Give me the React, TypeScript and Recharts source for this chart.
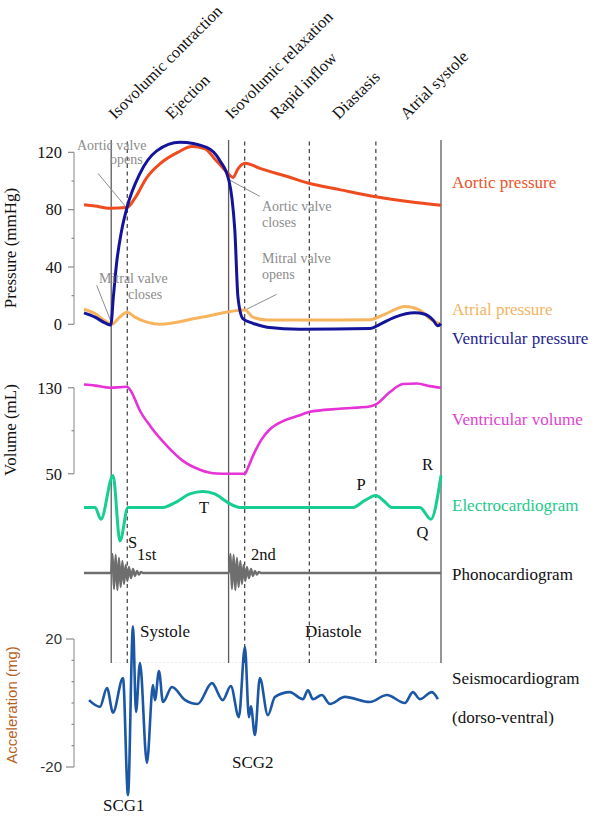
import React from 'react';
import { LineChart, Line, XAxis, YAxis, ReferenceLine } from 'recharts';

// ---------- time axis (ms in one cardiac cycle) ----------
const X_DOMAIN: [number, number] = [-22.4, 800];
const AXIS_X = 74;
const SERIF = '"Liberation Serif", "Times New Roman", serif';
const SANS = '"Liberation Sans", Arial, sans-serif';

// ---------- phases ----------
const phaseNames = ['Isovolumic contraction', 'Ejection', 'Isovolumic relaxation', 'Rapid inflow', 'Diastasis', 'Atrial systole'];
const phaseLabelTimes = [70, 197, 331, 432, 571, 723];
const solidBoundaries = [61, 324, 800];
const dashedBoundaries = [97, 360, 505, 654];

// ---------- pressure (mmHg) ----------
const pressureTicks = [0, 20, 40, 60, 80, 100, 120];
const pressureTickLabels = [0, 40, 80, 120];
const aorticTime = [0, 24.6, 58.2, 96.3, 114, 141, 170, 210, 242, 271, 294, 309, 325, 334, 345, 361, 394, 461, 504, 573, 654, 730, 800];
const aorticPressure = [83.5, 82.5, 81, 81.5, 88, 102.6, 112, 120, 124, 122.5, 115, 110, 104.5, 102.5, 108.5, 112.4, 108.8, 102.6, 98.4, 94, 89, 85.5, 83];
const ventricularTime = [0, 24.6, 47, 60, 66, 73, 84, 96.3, 125, 163, 215, 275, 304, 325, 331.5, 338, 345, 356, 378.6, 410, 484, 641, 663, 697, 741, 764, 782, 793, 800];
const ventricularPressure = [8, 5, 1, -0.5, 20, 42.6, 65, 81.5, 105, 121, 127, 123.5, 114.5, 100, 88, 65.6, 19, 4, 0.7, -2, -3.5, -3, 0, 5, 8, 7, 3, -1, 0.5];
const atrialTime = [0, 24.6, 47, 62, 80, 96.3, 114, 141, 170, 260, 361, 378, 410, 641, 674, 719, 752, 779, 800];
const atrialPressure = [10.5, 7.5, 2.5, 0, 5, 8.5, 5, 1.5, 0, 4.7, 10, 5, 3, 3.2, 7, 12.5, 10, 3, 0];

// ---------- volume (mL) ----------
const volumeTicks = [50, 90, 130];
const volumeTickLabels = [50, 130];
const volumeTime = [0, 24.6, 58.2, 80, 96.3, 105, 125.4, 147.8, 185.9, 221.8, 259.8, 297, 325, 360.6, 367.4, 378.6, 398, 416.6, 445.8, 483.8, 504, 573, 640, 654, 685.4, 714.6, 746, 775, 800];
const volumeValue = [133, 132, 130, 130.5, 131, 127, 108.6, 94.7, 76, 62, 53.8, 50.2, 50, 50, 55.6, 66.6, 82, 91.4, 99, 104.4, 107.5, 110.5, 112.5, 114.5, 126, 133.5, 134, 131.5, 130];

// ---------- ECG (mV) ----------
const ecgTime = [0, 24.6, 38, 65, 80.6, 98.6, 177, 204, 237, 266.6, 293, 322.6, 349.4, 602.6, 629.4, 654, 672, 690, 752.6, 777.3, 800];
const ecgValue = [0, 0, -0.37, 1.0, -1.05, 0, 0, 0.15, 0.42, 0.5, 0.42, 0.15, 0, 0, 0.22, 0.37, 0.2, 0, 0, -0.37, 1.0];

// ---------- phonocardiogram (a.u.) ----------
const phonoTime = [0, 60.5, 63.8, 67.2, 71, 74.8, 78.4, 82.2, 86, 89.6, 93.4, 97.2, 100.8, 105.3, 109.8, 114.2, 118.7, 123.2, 127.7, 132.2,
  324.8, 328.2, 331.5, 335.3, 339.1, 342.7, 346.5, 350.3, 353.9, 357.7, 361.5, 365.1, 369.6, 374.1, 378.6, 383, 387.5, 392, 396.5, 800];
const phonoValue = [0, 0, 19, -16, 18, -17, 15, -14, 12, -11, 8, -8, 6, -5, 4, -3, 2, -1.5, 1, 0,
  0, 19, -16, 18, -17, 15, -14, 12, -11, 8, -8, 6, -5, 4, -3, 2, -1.5, 1, 0, 0];

// ---------- seismocardiogram (mg) ----------
const scgTicks = [-20, -13.33, -6.67, 0, 6.67, 13.33, 20];
const scgTickLabels = [-20, 20];
const scgTime = [11.2, 35.8, 51.5, 65, 87.4, 98.6, 109.8, 116.5, 125.4, 141, 154.6, 159, 168, 177, 197, 226, 255, 286.7, 311, 329, 347, 360.6, 369.6, 374, 383, 394, 412, 428, 461, 490.6, 501.8, 513, 533, 551, 584.6, 640.6, 678.7, 719, 737, 752.6, 779.5, 793];
const scgValue = [0.9, -1.2, 4.7, -3, 7.8, -28.8, 24, -2.8, 12.5, -18.7, 5.6, 0.9, 10, 0.3, 5, 1, -0.3, 6.2, 0.9, 5.3, -4.4, 17.5, -4.4, -1, -10, 7.8, -3.8, 1.9, 3.4, 1.2, 4, 1.2, 2.5, -0.3, 1.9, 0.3, 2.5, 0, 3.4, 1.2, 3.4, 1.2];

// frame extent (phase boundary lines)
const frameExtent = [
  { t: -22.4, v: 0 },
  { t: 800, v: 0 },
];

const zip = (ts: number[], vs: number[]) => ts.map((t, i) => ({ t, v: vs[i] }));

const MARGIN_AXIS = { top: 0, right: 159, bottom: 0, left: 34 };
const MARGIN_NOAXIS = { top: 0, right: 159, bottom: 0, left: 74 };

const makeTick = (labels: number[], font: string, size: number, color: string, majorLen: number) => (props: any) => {
  const { y, payload } = props;
  const v = payload.value;
  const major = labels.includes(v);
  return (
    <g>
      <line x1={AXIS_X - (major ? majorLen : 2.5)} x2={AXIS_X} y1={y} y2={y} stroke="#8a8a8a" strokeWidth={1.2} />
      {major && (
        <text x={AXIS_X - 12} y={y} dy="0.35em" textAnchor="end" fontFamily={font} fontSize={size} fill={color}>
          {v}
        </text>
      )}
    </g>
  );
};

const PhaseLabel = (props: any) => {
  const vb = props.viewBox || { x: 0, y: 0 };
  const x = vb.x;
  const y = vb.y - 20;
  return (
    <text x={x} y={y} transform={`rotate(-45 ${x} ${y})`} fontFamily={SERIF} fontSize={16.5} fill="#111">
      {props.text}
    </text>
  );
};

const lineProps = { type: 'monotone' as const, dataKey: 'v', dot: false, activeDot: false, isAnimationActive: false };

const Panel = ({ top, height, axis, children }: { top: number; height: number; axis: boolean; children: React.ReactNode }) => (
  <div style={{ position: 'absolute', left: 0, top }}>
    <LineChart width={600} height={height} margin={axis ? MARGIN_AXIS : MARGIN_NOAXIS} style={{ overflow: 'visible' }}>
      {children}
    </LineChart>
  </div>
);

const txt = (x: number, y: number, s: string, fill = '#111', size = 17, extra: any = {}) => (
  <text key={s + x + y} x={x} y={y} fill={fill} fontSize={size} fontFamily={SERIF} {...extra}>
    {s}
  </text>
);

export default function App() {
  const grayNote = '#8c8c8c';
  return (
    <div style={{ position: 'absolute', left: 0, top: 0, width: 600, height: 818, background: '#fff' }}>
      {/* frame: phase boundaries and phase names */}
      <div style={{ position: 'absolute', left: 0, top: 0 }}>
        <LineChart width={600} height={663} margin={{ top: 140, right: 159, bottom: 0, left: 74 }} data={frameExtent}>
          <XAxis dataKey="t" type="number" domain={X_DOMAIN} hide />
          <YAxis type="number" domain={[0, 1]} hide width={0} />
          <Line dataKey="v" stroke="none" dot={false} activeDot={false} isAnimationActive={false} />
          <ReferenceLine segment={[{ x: 61, y: 0 }, { x: 800, y: 0 }]} stroke="#d4d4d4" strokeDasharray="2 2" ifOverflow="visible" />
          {solidBoundaries.map((t) => (
            <ReferenceLine key={'s' + t} x={t} stroke="#5c5c5c" strokeWidth={1.3} ifOverflow="visible" />
          ))}
          {dashedBoundaries.map((t) => (
            <ReferenceLine key={'d' + t} x={t} stroke="#4a4a4a" strokeWidth={1.3} strokeDasharray="4 3.5" ifOverflow="visible" />
          ))}
          {phaseNames.map((n, i) => (
            <ReferenceLine key={n} x={phaseLabelTimes[i]} stroke="none" ifOverflow="visible" label={(p: any) => <PhaseLabel {...p} text={n} />} />
          ))}
        </LineChart>
      </div>

      {/* pressure */}
      <Panel top={137.67} height={200.67} axis>
        <XAxis dataKey="t" type="number" domain={X_DOMAIN} hide />
        <YAxis type="number" domain={[-10, 130]} ticks={pressureTicks} interval={0} width={40} axisLine={false} tickLine={false}
          tick={makeTick(pressureTickLabels, SERIF, 16.5, '#111', 6)} />
        <ReferenceLine segment={[{ x: -22.4, y: 0 }, { x: -22.4, y: 120 }]} stroke="#9a9a9a" strokeWidth={1.2} ifOverflow="visible" />
        <ReferenceLine segment={[{ x: 31.4, y: 105.3 }, { x: 96.3, y: 81 }]} stroke={grayNote} strokeWidth={1} />
        <ReferenceLine segment={[{ x: 327, y: 100.5 }, { x: 394, y: 89.3 }]} stroke={grayNote} strokeWidth={1} />
        <ReferenceLine segment={[{ x: 28.4, y: 27.2 }, { x: 62, y: 0.7 }]} stroke={grayNote} strokeWidth={1} />
        <ReferenceLine segment={[{ x: 364.4, y: 10.5 }, { x: 431.6, y: 20.9 }]} stroke={grayNote} strokeWidth={1} />
        <Line {...lineProps} data={zip(atrialTime, atrialPressure)} stroke="#F6B45E" strokeWidth={3} />
        <Line {...lineProps} data={zip(aorticTime, aorticPressure)} stroke="#EE4B1E" strokeWidth={3} />
        <Line {...lineProps} data={zip(ventricularTime, ventricularPressure)} stroke="#14149A" strokeWidth={3} />
      </Panel>

      {/* volume */}
      <Panel top={377.25} height={107.5} axis>
        <XAxis dataKey="t" type="number" domain={X_DOMAIN} hide />
        <YAxis type="number" domain={[40, 140]} ticks={volumeTicks} interval={0} width={40} axisLine={false} tickLine={false}
          tick={makeTick(volumeTickLabels, SERIF, 16.5, '#111', 6)} />
        <ReferenceLine segment={[{ x: -22.4, y: 50 }, { x: -22.4, y: 130 }]} stroke="#9a9a9a" strokeWidth={1.2} ifOverflow="visible" />
        <Line {...lineProps} data={zip(volumeTime, volumeValue)} stroke="#E632D6" strokeWidth={2.6} />
      </Panel>

      {/* ECG */}
      <Panel top={468.6} height={76.8} axis={false}>
        <XAxis dataKey="t" type="number" domain={X_DOMAIN} hide />
        <YAxis type="number" domain={[-1.2, 1.2]} hide width={0} />
        <Line {...lineProps} data={zip(ecgTime, ecgValue)} stroke="#16CF8E" strokeWidth={3} />
      </Panel>

      {/* phonocardiogram */}
      <Panel top={548} height={50} axis={false}>
        <XAxis dataKey="t" type="number" domain={X_DOMAIN} hide />
        <YAxis type="number" domain={[-25, 25]} hide width={0} />
        <Line {...lineProps} data={zip(phonoTime, phonoValue)} stroke="#6e6e6e" strokeWidth={2.4} />
      </Panel>

      {/* seismocardiogram */}
      <Panel top={607} height={192} axis>
        <XAxis dataKey="t" type="number" domain={X_DOMAIN} hide />
        <YAxis type="number" domain={[-30, 30]} ticks={scgTicks} interval={0} width={40} axisLine={false} tickLine={false}
          tick={makeTick(scgTickLabels, SANS, 15, '#333', 8)} />
        <ReferenceLine segment={[{ x: -22.4, y: -20 }, { x: -22.4, y: 20 }]} stroke="#9a9a9a" strokeWidth={1.2} ifOverflow="visible" />
        <Line {...lineProps} data={zip(scgTime, scgValue)} stroke="#1C57A5" strokeWidth={2.6} />
      </Panel>

      {/* text overlay */}
      <svg width={600} height={818} style={{ position: 'absolute', left: 0, top: 0, pointerEvents: 'none' }}>
        {txt(452, 188, 'Aortic pressure', '#E8532B')}
        {txt(452, 315, 'Atrial pressure', '#F2B462')}
        {txt(452, 344, 'Ventricular pressure', '#1E1E90')}
        {txt(452, 425, 'Ventricular volume', '#E23FD2')}
        {txt(452, 511, 'Electrocardiogram', '#1DC98A')}
        {txt(452, 580, 'Phonocardiogram')}
        {txt(452, 684, 'Seismocardiogram')}
        {txt(452, 723, '(dorso-ventral)')}

        {txt(77, 150, 'Aortic valve', grayNote, 14)}
        {txt(110, 164, 'opens', grayNote, 14)}
        {txt(262, 211, 'Aortic valve', grayNote, 14)}
        {txt(262, 227, 'closes', grayNote, 14)}
        {txt(99, 283, 'Mitral valve', grayNote, 14)}
        {txt(128, 299, 'closes', grayNote, 14)}
        {txt(262, 263, 'Mitral valve', grayNote, 14)}
        {txt(262, 279, 'opens', grayNote, 14)}

        {txt(204, 513, 'T', '#111', 16.5, { textAnchor: 'middle' })}
        {txt(128, 548, 'S', '#111', 16.5)}
        {txt(137, 560, '1st', '#111', 16.5)}
        {txt(251, 560, '2nd', '#111', 16.5)}
        {txt(361, 490, 'P', '#111', 16.5, { textAnchor: 'middle' })}
        {txt(427.5, 470, 'R', '#111', 16.5, { textAnchor: 'middle' })}
        {txt(422.5, 538, 'Q', '#111', 16.5, { textAnchor: 'middle' })}
        {txt(140, 637, 'Systole')}
        {txt(305, 637, 'Diastole')}
        {txt(103, 811, 'SCG1')}
        {txt(232, 768, 'SCG2')}

        {txt(16, 248, 'Pressure (mmHg)', '#111', 17, { textAnchor: 'middle', transform: 'rotate(-90 16 248)' })}
        {txt(16, 430, 'Volume (mL)', '#111', 17, { textAnchor: 'middle', transform: 'rotate(-90 16 430)' })}
        <text x={17} y={705} textAnchor="middle" transform="rotate(-90 17 705)" fontFamily={SANS} fontSize={15} fill="#B8621F">
          Acceleration (mg)
        </text>
      </svg>
    </div>
  );
}
